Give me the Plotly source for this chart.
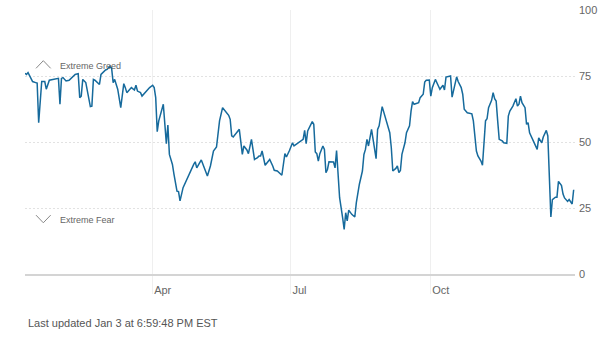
import plotly.graph_objects as go

# ---- data ----
dates = [
    "2024-01-08","2024-01-09","2024-01-10","2024-01-12","2024-01-13","2024-01-15","2024-01-16","2024-01-17",
    "2024-01-19","2024-01-21","2024-01-22","2024-01-24","2024-01-26","2024-01-29","2024-01-30","2024-01-31",
    "2024-02-01","2024-02-02","2024-02-04","2024-02-06","2024-02-08","2024-02-10","2024-02-12","2024-02-13",
    "2024-02-14","2024-02-15","2024-02-17","2024-02-19","2024-02-20","2024-02-21","2024-02-22","2024-02-23",
    "2024-02-25","2024-02-26","2024-02-27","2024-02-29",
    "2024-03-01","2024-03-02","2024-03-03","2024-03-04","2024-03-05","2024-03-06","2024-03-07","2024-03-09",
    "2024-03-11","2024-03-13","2024-03-14","2024-03-15","2024-03-17","2024-03-18","2024-03-20","2024-03-21",
    "2024-03-22","2024-03-24","2024-03-25","2024-03-27","2024-03-28","2024-03-30",
    "2024-04-01","2024-04-02","2024-04-03","2024-04-04","2024-04-05","2024-04-06","2024-04-08","2024-04-10",
    "2024-04-11","2024-04-12","2024-04-14","2024-04-15","2024-04-17","2024-04-18","2024-04-19","2024-04-21",
    "2024-04-24","2024-04-26","2024-04-28","2024-04-29","2024-04-30",
    "2024-05-03","2024-05-05","2024-05-07","2024-05-09","2024-05-11","2024-05-13","2024-05-15","2024-05-17",
    "2024-05-19","2024-05-21","2024-05-22","2024-05-23","2024-05-24","2024-05-26","2024-05-28","2024-05-30",
    "2024-05-31",
    "2024-06-02","2024-06-03","2024-06-05","2024-06-07","2024-06-09","2024-06-10","2024-06-11","2024-06-12",
    "2024-06-14","2024-06-17","2024-06-19","2024-06-20","2024-06-22","2024-06-24","2024-06-25","2024-06-27",
    "2024-06-28","2024-06-30",
    "2024-07-02","2024-07-03","2024-07-05","2024-07-07","2024-07-09","2024-07-10","2024-07-11","2024-07-12",
    "2024-07-15","2024-07-16","2024-07-17","2024-07-18","2024-07-19","2024-07-20","2024-07-22","2024-07-23",
    "2024-07-24","2024-07-25","2024-07-26","2024-07-29","2024-07-30","2024-07-31",
    "2024-08-01","2024-08-02","2024-08-04","2024-08-05","2024-08-06","2024-08-07","2024-08-08","2024-08-10",
    "2024-08-12","2024-08-13","2024-08-15","2024-08-17","2024-08-18","2024-08-19","2024-08-20","2024-08-21",
    "2024-08-23","2024-08-24","2024-08-26","2024-08-27","2024-08-28","2024-08-30",
    "2024-09-02","2024-09-04","2024-09-05","2024-09-06","2024-09-08","2024-09-09","2024-09-10","2024-09-11",
    "2024-09-12","2024-09-14","2024-09-15","2024-09-17","2024-09-18","2024-09-19","2024-09-20","2024-09-22",
    "2024-09-23","2024-09-24","2024-09-26","2024-09-27","2024-09-28","2024-09-30",
    "2024-10-01","2024-10-02","2024-10-04","2024-10-06","2024-10-07","2024-10-09","2024-10-10","2024-10-11",
    "2024-10-13","2024-10-14","2024-10-15","2024-10-16","2024-10-18","2024-10-19","2024-10-21","2024-10-22",
    "2024-10-23","2024-10-25","2024-10-27","2024-10-28","2024-10-29","2024-10-30","2024-10-31",
    "2024-11-01","2024-11-03","2024-11-04","2024-11-05","2024-11-06","2024-11-07","2024-11-08","2024-11-10",
    "2024-11-11","2024-11-12","2024-11-13","2024-11-14","2024-11-15","2024-11-17","2024-11-18","2024-11-20",
    "2024-11-21","2024-11-22","2024-11-24","2024-11-26","2024-11-27","2024-11-28","2024-11-29","2024-11-30",
    "2024-12-02","2024-12-03","2024-12-04","2024-12-05","2024-12-06","2024-12-08","2024-12-09","2024-12-10",
    "2024-12-11","2024-12-13","2024-12-14","2024-12-16","2024-12-17","2024-12-18","2024-12-19","2024-12-20",
    "2024-12-22","2024-12-23","2024-12-24","2024-12-26","2024-12-27","2024-12-28","2024-12-30","2024-12-31",
    "2025-01-01","2025-01-02","2025-01-03",
]
fear_greed = [
    76.0,75.6,76.3,73.7,72.9,72.5,72.3,57.3,
    72.9,72.9,70.0,73.4,73.7,74.1,74.1,64.3,
    74.1,74.4,73.1,73.4,74.4,75.6,75.9,66.8,
    67.4,73.7,72.5,66.8,63.4,63.6,73.7,73.4,
    72.5,71.8,75.6,76.9,
    77.3,77.5,78.2,78.8,77.9,72.5,73.7,70.0,
    63.0,72.1,70.6,68.7,70.0,70.6,69.7,71.5,
    69.3,68.7,67.4,68.7,69.1,70.6,
    71.5,70.6,66.8,53.9,58.0,59.8,64.3,49.4,
    56.4,45.3,41.5,37.8,31.4,31.2,27.7,32.7,
    36.5,39.6,41.5,42.5,40.2,
    43.2,40.2,37.1,40.9,46.6,48.1,58.0,63.0,
    61.7,60.1,58.6,52.3,51.9,53.5,54.8,45.3,
    48.5,
    47.0,45.6,51.0,43.4,44.1,44.7,44.7,46.6,
    41.2,43.4,40.9,39.3,39.0,38.1,37.4,45.6,
    44.3,46.8,
    49.7,48.5,49.4,50.4,51.0,54.4,49.4,54.2,
    57.7,56.7,46.2,45.6,42.8,45.6,48.5,47.2,
    38.4,39.6,42.5,42.4,40.2,46.8,
    36.5,28.9,21.3,16.9,23.2,20.1,24.2,22.6,
    21.6,27.0,34.0,39.0,45.3,47.2,51.0,48.5,
    54.8,51.6,43.7,54.8,56.1,63.4,
    58.0,53.5,47.9,39.0,40.0,40.9,38.4,39.2,
    45.3,49.7,53.5,56.1,61.7,65.3,64.3,64.6,
    64.9,66.8,68.1,72.7,73.4,73.5,
    67.4,70.6,73.7,71.2,70.0,71.5,69.7,74.6,
    75.0,75.0,67.0,69.6,74.7,72.9,70.6,68.1,
    62.4,61.1,60.9,60.7,58.0,52.9,46.6,
    44.7,42.8,41.2,50.4,58.0,58.8,63.0,65.8,
    68.7,66.4,65.5,58.0,51.0,50.4,49.7,49.5,
    59.8,61.7,63.6,66.4,63.6,64.3,67.4,64.9,
    63.0,56.7,57.3,53.5,52.3,50.1,48.9,47.2,
    51.6,49.7,51.9,54.4,52.3,35.1,21.6,28.2,
    29.1,29.1,35.1,33.5,30.3,28.8,27.5,28.2,
    27.5,26.5,31.9,
]

x_tick_vals = ["2024-04-01", "2024-07-01", "2024-10-01"]
x_tick_text = ["Apr", "Jul", "Oct"]
y_tick_vals = [0, 25, 50, 75, 100]
x_range = ["2024-01-08", "2025-01-03 21:00"]

greed_label = "Extreme Greed"
fear_label = "Extreme Fear"
greed_level = 78.8
fear_level = 20.5
footer = "Last updated Jan 3 at 6:59:48 PM EST"

FONT = "Liberation Sans, Arial, sans-serif"
LINE_COLOR = "#166a9c"

fig = go.Figure()
fig.add_trace(go.Scatter(
    x=dates, y=fear_greed, mode="lines",
    line=dict(color=LINE_COLOR, width=1.5),
    hoverinfo="skip", showlegend=False,
))

fig.update_layout(
    width=607, height=342,
    margin=dict(l=25, r=32, t=10, b=68),
    paper_bgcolor="white", plot_bgcolor="white",
    font=dict(family=FONT, size=11, color="#666666"),
    showlegend=False,
)

fig.update_xaxes(
    type="date", range=x_range, automargin=False,
    tickvals=x_tick_vals, ticktext=x_tick_text,
    showgrid=True, gridcolor="#efefef", gridwidth=1,
    ticks="outside", ticklen=18, tickcolor="#efefef", tickwidth=1,
    ticklabelposition="outside right", ticklabelstandoff=5,
    tickfont=dict(family=FONT, size=11, color="#666666"),
    showline=True, linecolor="#d4d4d4", linewidth=2,
    zeroline=False, fixedrange=True,
)

fig.update_yaxes(
    range=[0, 100], side="right", automargin=False,
    tickvals=y_tick_vals,
    showgrid=True, gridcolor="#e2e2e2", gridwidth=1, griddash="2px,2px",
    ticks="", ticklabelstandoff=3,
    tickfont=dict(family=FONT, size=11, color="#666666"),
    showline=False, zeroline=False, fixedrange=True,
)

# chevrons for the Extreme Greed / Extreme Fear markers
chev = dict(type="path", xref="paper", yref="y",
            line=dict(color="#888888", width=1))
fig.add_shape(path="M 0.02 77.9 L 0.0333 80.8 L 0.0467 77.9", **chev)
fig.add_shape(path="M 0.02 22.3 L 0.0333 19.4 L 0.0467 22.3", **chev)

fig.add_annotation(text=greed_label, xref="paper", yref="y", x=0.0605, y=greed_level,
                   xanchor="left", yanchor="middle", showarrow=False,
                   font=dict(family=FONT, size=9, color="#666666"))
fig.add_annotation(text=fear_label, xref="paper", yref="y", x=0.0605, y=fear_level,
                   xanchor="left", yanchor="middle", showarrow=False,
                   font=dict(family=FONT, size=9, color="#666666"))

fig.add_annotation(text=footer, xref="paper", yref="paper", x=0, y=0,
                   xanchor="left", yanchor="middle", xshift=1, yshift=-49,
                   showarrow=False, font=dict(family=FONT, size=11, color="#555555"))

fig.write_html("out.html", config={"displayModeBar": False})
